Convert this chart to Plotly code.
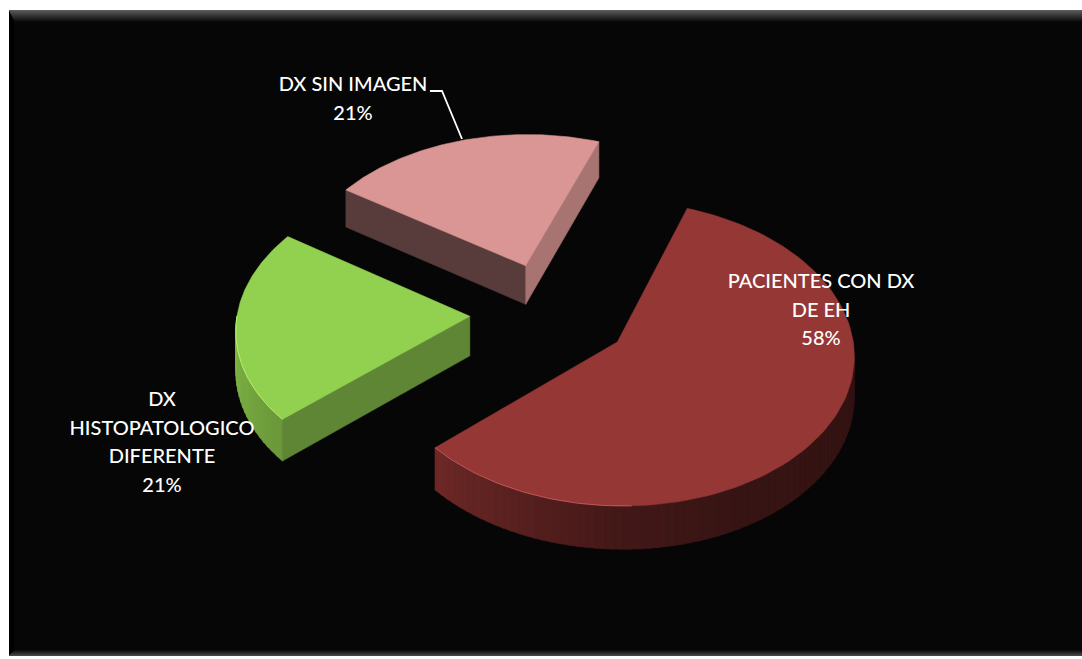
import numpy as np
import plotly.graph_objects as go

# Chart content
categories = ["PACIENTES CON DX DE EH", "DX HISTOPATOLOGICO DIFERENTE", "DX SIN IMAGEN"]
label_lines = [["PACIENTES CON DX", "DE EH"], ["DX", "HISTOPATOLOGICO", "DIFERENTE"], ["DX SIN IMAGEN"]]
percentages = [58, 21, 21]
top_colors = ["#953735", "#92D050", "#D99694"]

# Pie scene: first slice angle (clockwise from 12 o'clock), explosion and projection
FIRST_ANGLE = 19.7
EXPLODE = 0.345
CX, CY = 550.0, 313.0
RX, RY = 232.5, 147.5
PERSPECTIVE = 0.0735
DEPTH = 39.5
LABEL_ANCHORS = [(821, 283), (162, 401), (353, 86)]
LINE_STEP = 28.6


def project(x, y, z=0.0):
    """Map a point on the pie plane to chart coordinates; z is the drop below the top face."""
    w = 1 + PERSPECTIVE * np.asarray(y)
    return CX + RX * np.asarray(x) / w, CY - RY * np.asarray(y) / w + z / w


def shade(hex_color, factor):
    r, g, b = (int(hex_color[i:i + 2], 16) for i in (1, 3, 5))
    return f"rgb({r * factor:.0f},{g * factor:.0f},{b * factor:.0f})"


def polygon(xs, ys, color):
    return go.Scatter(x=xs, y=ys, mode="lines", fill="toself", fillcolor=color,
                      line=dict(color=color, width=0.6), hoverinfo="skip", showlegend=False)


def rim_factor(a):
    return float(np.interp(a, [90, 150, 180, 227, 270], [0.34, 0.36, 0.44, 0.72, 0.90]))


def cut_factor(normal_angle):
    return float(np.interp(normal_angle % 360, [108, 137, 213], [0.78, 0.65, 0.40]))


def slice_traces(start, end, color):
    mid = np.radians((start + end) / 2)
    ox, oy = EXPLODE * np.sin(mid), EXPLODE * np.cos(mid)
    angles = np.radians(np.linspace(start, end, 121))
    ax, ay = ox + np.sin(angles), oy + np.cos(angles)
    traces = []

    # Straight cut faces, only those turned towards the viewer
    for edge, normal in ((start, start - 90), (end, end + 90)):
        if np.cos(np.radians(normal)) < 0:
            ex, ey = ox + np.sin(np.radians(edge)), oy + np.cos(np.radians(edge))
            px = np.array([ox, ex, ex, ox, ox])
            py = np.array([oy, ey, ey, oy, oy])
            drop = np.array([0, 0, DEPTH, DEPTH, 0])
            sx, sy = project(px, py, drop)
            traces.append(polygon(sx, sy, shade(color, cut_factor(normal))))

    # Outer wall, shaded in narrow bands along the front of the arc
    front = np.arange(max(start, 90), min(end, 270), 2.0)
    for a in front:
        band = np.radians(np.linspace(a, min(a + 2.4, min(end, 270)), 4))
        bx, by = ox + np.sin(band), oy + np.cos(band)
        tx, ty = project(bx, by)
        lx, ly = project(bx[::-1], by[::-1], DEPTH)
        traces.append(polygon(np.r_[tx, lx, tx[0]], np.r_[ty, ly, ty[0]],
                              shade(color, rim_factor(a + 1))))

    # Top face
    tx, ty = project(np.r_[ox, ax, ox], np.r_[oy, ay, oy])
    traces.append(polygon(tx, ty, color))

    # Light catching the front edge on the left-hand part of the arc
    if front.size:
        lit = np.radians(np.linspace(max(start, 178), min(end, 270), 40))
        hx, hy = project(ox + np.sin(lit), oy + np.cos(lit))
        r, g, b = (int(color[i:i + 2], 16) for i in (1, 3, 5))
        glow = f"rgb({min(r + 60, 255)},{min(g + 45, 255)},{min(b + 45, 255)})"
        traces.append(go.Scatter(x=hx, y=hy, mode="lines", line=dict(color=glow, width=1),
                                 opacity=0.75, hoverinfo="skip", showlegend=False))
    return traces


# Slice angles follow the values, clockwise
spans = np.array(percentages) / sum(percentages) * 360
starts = FIRST_ANGLE + np.r_[0, np.cumsum(spans)[:-1]]

fig = go.Figure()
for i in (2, 1, 0):  # far slice first, nearest last
    fig.add_traces(slice_traces(starts[i], starts[i] + spans[i], top_colors[i]))

# Leader line from the top-left slice to its label
fig.add_trace(go.Scatter(x=[430, 442, 462], y=[91, 91, 139], mode="lines",
                         line=dict(color="white", width=1.8), hoverinfo="skip", showlegend=False))

# Category labels with their percentages, one text line per row
for lines, pct, (lx, ly) in zip(label_lines, percentages, LABEL_ANCHORS):
    rows = lines + [f"{pct}%"]
    fig.add_trace(go.Scatter(
        x=[lx] * len(rows), y=[ly + n * LINE_STEP for n in range(len(rows))],
        mode="text", text=rows, textposition="middle center",
        textfont=dict(family="Lato", size=20, color="white", weight=500),
        hoverinfo="skip", showlegend=False))

# Black panel with a soft bevel along its top and bottom edges
shapes = [dict(type="rect", x0=9, x1=1082, y0=10, y1=656, fillcolor="#060606",
               line_width=0, layer="below"),
          dict(type="rect", x0=9, x1=14, y0=10, y1=656, fillcolor="#000000",
               line_width=0, layer="below")]
for row, level in enumerate(np.linspace(90, 10, 12)):
    g = f"rgb({level:.0f},{level:.0f},{level:.0f})"
    shapes.append(dict(type="rect", x0=9 + row * 0.5, x1=1082, y0=10 + row, y1=11 + row,
                       fillcolor=g, line_width=0, layer="below"))
for row, level in enumerate(np.linspace(14, 70, 6)):
    g = f"rgb({level:.0f},{level:.0f},{level:.0f})"
    shapes.append(dict(type="rect", x0=14 - row, x1=1082, y0=650 + row, y1=651 + row,
                       fillcolor=g, line_width=0, layer="below"))

fig.update_layout(
    width=1082, height=659, autosize=False,
    margin=dict(l=0, r=0, t=0, b=0),
    paper_bgcolor="white", plot_bgcolor="white",
    xaxis=dict(range=[0, 1082], visible=False, fixedrange=True),
    yaxis=dict(range=[659, 0], visible=False, fixedrange=True),
    shapes=shapes, showlegend=False,
)
fig.write_html("out.html", config={"displayModeBar": False})
